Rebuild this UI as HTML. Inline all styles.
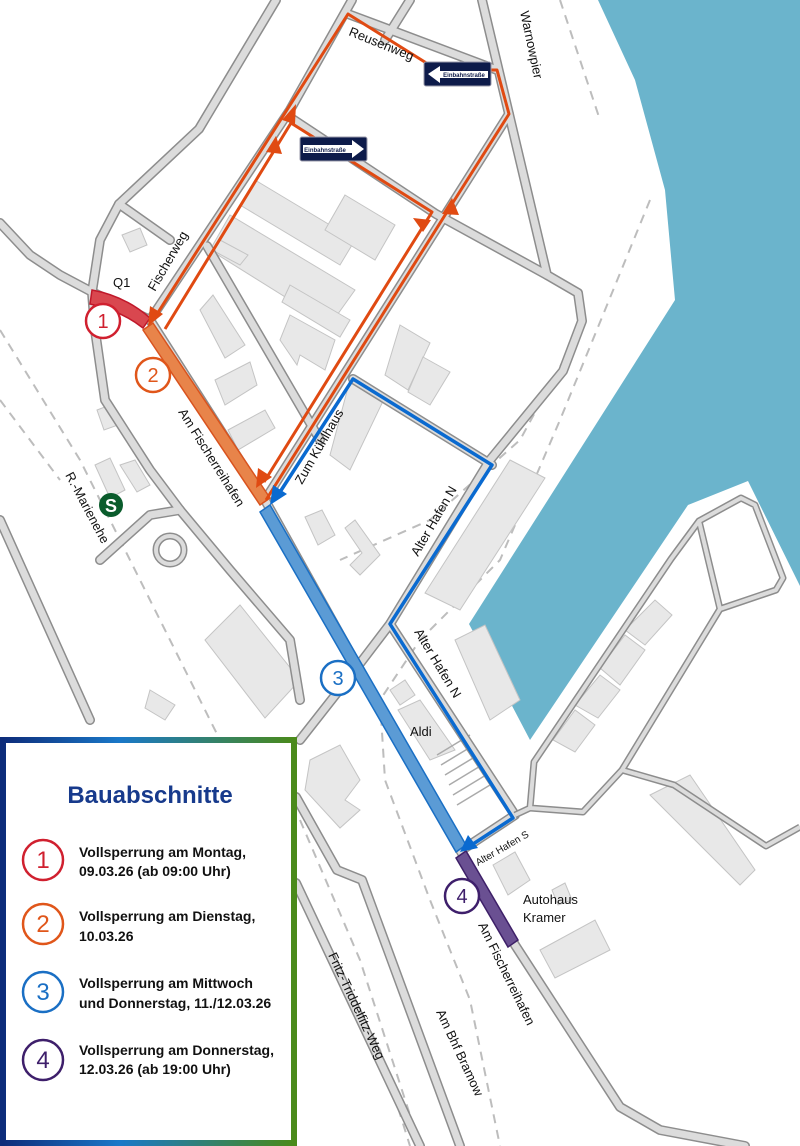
<!DOCTYPE html>
<html><head><meta charset="utf-8"><style>
html,body{margin:0;padding:0;background:#fff}
svg{display:block}
text{font-family:"Liberation Sans",sans-serif}
.r1{fill:none;stroke:#8d8d8d;stroke-width:10;stroke-linejoin:round;stroke-linecap:round}
.r2{fill:none;stroke:#dcdcdc;stroke-width:7;stroke-linejoin:round;stroke-linecap:round}
.t1{fill:none;stroke:#8d8d8d;stroke-width:7;stroke-linejoin:round}
.t2{fill:none;stroke:#dcdcdc;stroke-width:4;stroke-linejoin:round}
.b{fill:#e8e8e8;stroke:#c4c4c4;stroke-width:1}
.d{fill:none;stroke:#bdbdbd;stroke-width:2;stroke-dasharray:9 7}
.o{fill:none;stroke:#e04a12;stroke-width:3;stroke-linejoin:round}
.bl{fill:none;stroke:#0a6ad0;stroke-width:3.5;stroke-linejoin:round}
.lb{font-size:13px;fill:#111}
.lg{font-family:"Liberation Sans Narrow","Liberation Sans",sans-serif;font-weight:bold;font-size:14px;fill:#111}
</style></head><body>
<svg width="800" height="1146" viewBox="0 0 800 1146" xmlns="http://www.w3.org/2000/svg">
<defs>
<linearGradient id="gb" x1="0" y1="0" x2="1" y2="0"><stop offset="0" stop-color="#0d2c7a"/><stop offset="0.4" stop-color="#1a78c8"/><stop offset="1" stop-color="#4a8a1a"/></linearGradient>
</defs>
<polygon points="598,0 800,0 800,586 748,481 688,505 530,740 469,624 675,300 665,190 635,80" fill="#6bb4cc"/>
<path class="d" d="M560,0 L600,120 M650,200 L560,420 L500,560 L420,640 L380,700 L385,780 L430,900 L470,1000 L500,1146"/>
<path class="d" d="M0,330 L80,460 L150,600 L230,760 M300,890 L380,1050 L410,1146"/>
<path class="d" d="M0,400 L60,480 M300,820 L360,960 L420,1146"/>
<path class="d" d="M580,330 L520,440 L430,520 L340,560"/>
<g class="b">
<polygon points="255,180 355,240 340,265 240,205"/><polygon points="230,215 355,290 330,325 210,250"/>
<polygon points="345,195 395,225 375,260 325,230"/><polygon points="220,240 248,255 240,265 212,250"/>
<polygon points="290,285 350,320 340,337 282,302"/><polygon points="290,315 335,340 325,370 300,355 297,365 280,340"/>
<polygon points="213,295 245,345 225,358 200,310"/><polygon points="215,380 250,362 257,385 225,405"/>
<polygon points="228,430 265,410 275,428 238,450"/>
<polygon points="350,380 385,397 350,470 330,455"/><polygon points="400,325 430,343 408,390 385,375"/>
<polygon points="423,357 450,372 430,405 408,392"/>
<polygon points="305,517 322,510 335,535 318,545"/><polygon points="345,528 355,520 380,555 360,575 350,565 362,553"/>
<polygon points="510,460 545,478 460,610 425,593"/><polygon points="455,640 485,625 520,700 490,720"/>
<polygon points="205,640 240,605 300,680 265,718"/><polygon points="310,760 340,745 360,780 345,800 360,810 340,828 305,790"/>
<polygon points="390,690 405,680 415,695 400,705"/><polygon points="398,710 420,700 455,750 430,760"/>
<polygon points="493,865 515,852 530,880 508,895"/><polygon points="552,890 565,883 572,900 558,905"/>
<polygon points="540,950 595,920 610,950 555,978"/><polygon points="650,795 690,775 755,870 740,885"/>
<polygon points="553,740 575,710 595,725 575,752"/><polygon points="575,705 600,675 620,690 598,718"/>
<polygon points="600,668 625,635 645,650 620,685"/><polygon points="625,630 655,600 672,615 645,645"/>
<polygon points="97,410 110,405 118,425 104,430"/><polygon points="95,465 110,458 125,490 110,498"/>
<polygon points="120,465 135,460 150,485 137,492"/><polygon points="122,235 140,228 147,245 130,252"/>
<polygon points="150,690 175,705 165,720 145,708"/>
</g>
<g stroke="#aaa" stroke-width="1.5"><path d="M437,755 L470,735 M441,765 L474,745 M445,775 L478,755 M449,785 L482,765 M453,795 L486,775 M457,805 L490,785"/></g>
<g>
<path class="r1" d="M0,223 L30,255 L60,275 L92,292 L150,320 L265,500 L460,850 L515,945 L620,1107 L660,1130 L745,1146"/>
<path class="r1" d="M150,320 L290,110 L352,0"/>
<path class="r1" d="M276,0 L199,129 L119,204 L100,240 L92,292 L95,330 L105,400 L150,470 L180,510"/>
<path class="r1" d="M119,204 L170,240"/>
<path class="r1" d="M348,14 L497,70 M482,0 L509,114 L547,275 L578,293 L582,321 L563,371 L490,460 L390,624 L355,670 L300,740"/>
<path class="r1" d="M291,118 L436,214 L547,275"/>
<path class="r1" d="M509,114 L265,500"/>
<path class="r1" d="M207,246 L320,440"/>
<path class="r1" d="M410,0 L385,40"/>
<path class="r1" d="M353,379 L492,465"/>
<path class="r1" d="M390,624 L515,815 L465,848"/>
<path class="r1" d="M296,797 L337,870 L362,880 L460,1146"/>
<path class="r1" d="M296,883 L420,1146"/>
<path class="r1" d="M0,520 L90,720"/>
<path class="r1" d="M180,510 L230,570 L290,640 L300,700"/>
<path class="r1" d="M100,560 L150,515 L180,510"/>
<path class="r2" d="M0,223 L30,255 L60,275 L92,292 L150,320 L265,500 L460,850 L515,945 L620,1107 L660,1130 L745,1146"/>
<path class="r2" d="M150,320 L290,110 L352,0"/>
<path class="r2" d="M276,0 L199,129 L119,204 L100,240 L92,292 L95,330 L105,400 L150,470 L180,510"/>
<path class="r2" d="M119,204 L170,240"/>
<path class="r2" d="M348,14 L497,70 M482,0 L509,114 L547,275 L578,293 L582,321 L563,371 L490,460 L390,624 L355,670 L300,740"/>
<path class="r2" d="M291,118 L436,214 L547,275"/>
<path class="r2" d="M509,114 L265,500"/>
<path class="r2" d="M207,246 L320,440"/>
<path class="r2" d="M410,0 L385,40"/>
<path class="r2" d="M353,379 L492,465"/>
<path class="r2" d="M390,624 L515,815 L465,848"/>
<path class="r2" d="M296,797 L337,870 L362,880 L460,1146"/>
<path class="r2" d="M296,883 L420,1146"/>
<path class="r2" d="M0,520 L90,720"/>
<path class="r2" d="M180,510 L230,570 L290,640 L300,700"/>
<path class="r2" d="M100,560 L150,515 L180,510"/>
<circle cx="170" cy="550" r="14" fill="none" stroke="#8d8d8d" stroke-width="7"/><circle cx="170" cy="550" r="14" fill="none" stroke="#dcdcdc" stroke-width="4"/>
<path class="t1" d="M515,815 L530,808 L534,762 L671,559 L699,521 L741,498 L755,505 L783,578 L776,590 L720,609 L699,521 M720,609 L622,770 L583,812 L530,808 M622,770 L674,785 L766,846 L800,827"/>
<path class="t2" d="M515,815 L530,808 L534,762 L671,559 L699,521 L741,498 L755,505 L783,578 L776,590 L720,609 L699,521 M720,609 L622,770 L583,812 L530,808 M622,770 L674,785 L766,846 L800,827"/>
</g>
<path d="M92,290 Q125,296 150,318 L143,328 Q120,310 90,304 Z" fill="#d9474f" stroke="#c0182a" stroke-width="1.5"/>
<path d="M143,330 L153,323 L270,498 L260,505 Z" fill="#e8844a" stroke="#d9531e" stroke-width="1.5"/>
<path d="M260,512 L270,505 L466,845 L456,852 Z" fill="#5b9bd5" stroke="#1a6fc4" stroke-width="1.5"/>
<path d="M456,858 L466,851 L518,940 L508,947 Z" fill="#6a5092" stroke="#3e2068" stroke-width="1.5"/>
<path class="o" d="M428,64 L348,14 L157,314"/>
<path class="o" d="M165,329 L291,123 L432,212 L264,482"/>
<path class="o" d="M266,500 L452,204 L509,114 L497,70 L490,70"/>
<g fill="#e04a12">
<polygon points="282,120 296,104 295,124"/><polygon points="148,326 150,306 163,314"/>
<polygon points="276,136 266,152 282,154"/><polygon points="423,232 413,218 431,220"/>
<polygon points="256,488 258,468 272,477"/><polygon points="452,198 442,214 459,215"/>
</g>
<path class="bl" d="M280,492 L353,379 L492,465 L390,624 L513,818 L470,846"/>
<g fill="#0a6ad0"><polygon points="270,505 273,485 287,494"/><polygon points="460,852 468,835 478,848"/></g>
<g><rect x="424" y="62" width="67" height="24" rx="2" fill="#0d1b4a" stroke="#99a" stroke-width="1"/>
<polygon points="428,74 440,66 440,71 488,71 488,78 440,78 440,83" fill="#fff"/>
<text x="464" y="77" font-size="6" font-weight="bold" fill="#0d1b4a" text-anchor="middle">Einbahnstraße</text>
<rect x="300" y="137" width="67" height="24" rx="2" fill="#0d1b4a" stroke="#99a" stroke-width="1"/>
<polygon points="303,145 352,145 352,140 364,149 352,158 352,153 303,153" fill="#fff"/>
<text x="325" y="152" font-size="6" font-weight="bold" fill="#0d1b4a" text-anchor="middle">Einbahnstraße</text></g>
<g fill="#fff" stroke-width="2.5">
<circle cx="103" cy="321" r="17" stroke="#d0202f"/><circle cx="153" cy="375" r="17" stroke="#e0561a"/>
<circle cx="338" cy="678" r="17" stroke="#1a6fc4"/><circle cx="462" cy="896" r="17" stroke="#3e1f6b"/>
</g>
<g font-size="20" text-anchor="middle"><text x="103" y="328" fill="#d0202f">1</text><text x="153" y="382" fill="#e0561a">2</text><text x="338" y="685" fill="#1a6fc4">3</text><text x="462" y="903" fill="#3e1f6b">4</text></g>
<g class="lb">
<text x="113" y="287">Q1</text>
<text transform="translate(155,292) rotate(-60)">Fischerweg</text>
<text transform="translate(348,35) rotate(22)">Reusenweg</text>
<text transform="translate(520,12) rotate(78)">Warnowpier</text>
<text transform="translate(178,412) rotate(58)">Am Fischerreihafen</text>
<text transform="translate(302,485) rotate(-60)">Zum Kühlhaus</text>
<text transform="translate(418,557) rotate(-60)">Alter Hafen N</text>
<text transform="translate(414,632) rotate(59)">Alter Hafen N</text>
<text x="410" y="736">Aldi</text>
<text transform="translate(478,866) rotate(-30)" font-size="10">Alter Hafen S</text>
<text x="523" y="904">Autohaus</text><text x="523" y="922">Kramer</text>
<text transform="translate(478,925) rotate(64)">Am Fischerreihafen</text>
<text transform="translate(436,1012) rotate(65)">Am Bhf Bramow</text>
<text transform="translate(328,955) rotate(65)">Fritz-Triddelfitz-Weg</text>
<text transform="translate(65,475) rotate(62)">R.-Marienehe</text>
</g>
<circle cx="111" cy="505" r="12" fill="#0a5c2c"/><text x="111" y="512" font-size="18" font-weight="bold" fill="#fff" text-anchor="middle">S</text>
<rect x="3" y="740" width="291" height="403" fill="#fff" stroke="url(#gb)" stroke-width="6"/>
<text x="150" y="803" text-anchor="middle" font-size="24" font-weight="bold" fill="#173a8c" font-family="Liberation Sans Narrow, Liberation Sans, sans-serif">Bauabschnitte</text>
<g stroke-width="2.5" fill="#fff">
<circle cx="43" cy="860" r="20" stroke="#d0202f"/><circle cx="43" cy="924" r="20" stroke="#e0561a"/>
<circle cx="43" cy="992" r="20" stroke="#1a6fc4"/><circle cx="43" cy="1060" r="20" stroke="#3e1f6b"/>
</g>
<g font-size="24" text-anchor="middle" font-family="Liberation Sans Narrow, Liberation Sans, sans-serif"><text x="43" y="868" fill="#d0202f">1</text><text x="43" y="932" fill="#e0561a">2</text><text x="43" y="1000" fill="#1a6fc4">3</text><text x="43" y="1068" fill="#3e1f6b">4</text></g>
<g class="lg">
<text x="79" y="857">Vollsperrung am Montag,</text><text x="79" y="876">09.03.26 (ab 09:00 Uhr)</text>
<text x="79" y="921">Vollsperrung am Dienstag,</text><text x="79" y="941">10.03.26</text>
<text x="79" y="988">Vollsperrung am Mittwoch</text><text x="79" y="1008">und Donnerstag, 11./12.03.26</text>
<text x="79" y="1055">Vollsperrung am Donnerstag,</text><text x="79" y="1074">12.03.26 (ab 19:00 Uhr)</text>
</g>
</svg>
</body></html>
